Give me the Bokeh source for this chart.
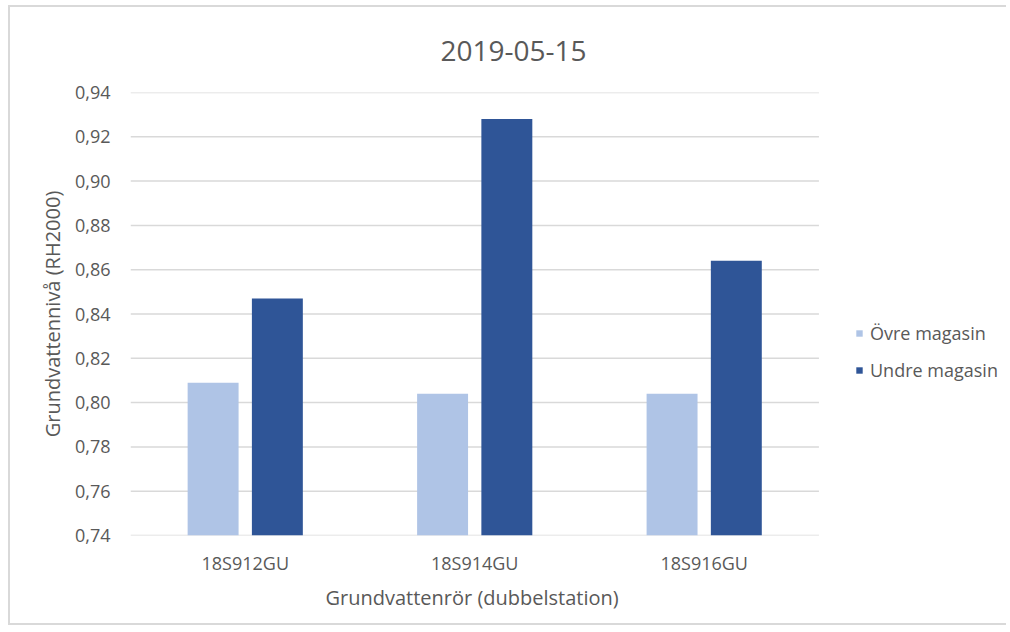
from bokeh.plotting import figure
from bokeh.models import FixedTicker, Legend, LegendItem, ColumnDataSource, Range1d, Title
from bokeh.embed import file_html
from bokeh.resources import INLINE

# Groundwater levels per double station, 2019-05-15
stations = ["18S912GU", "18S914GU", "18S916GU"]
ovre = [0.809, 0.804, 0.804]
undre = [0.847, 0.928, 0.864]

y_ticks = [0.74, 0.76, 0.78, 0.80, 0.82, 0.84, 0.86, 0.88, 0.90, 0.92, 0.94]
y_tick_labels = ["0,74", "0,76", "0,78", "0,80", "0,82", "0,84", "0,86", "0,88", "0,90", "0,92", "0,94"]

title_text = "2019-05-15"
x_title = "Grundvattenrör (dubbelstation)"
y_title = "Grundvattennivå (RH2000)"
series_names = ["Övre magasin", "Undre magasin"]

LIGHT = "#afc4e6"
DARK = "#2f5597"
GREY_TXT = "#595959"
GRID = "#d9d9d9"
FONT = "Open Sans"

# category slots sit at 0.5, 1.5, 2.5; the space right of the last slot holds the legend
n = len(stations)
centers = [i + 0.5 for i in range(n)]
source = ColumnDataSource(data=dict(
    x_ovre=[c - 0.14 for c in centers],
    x_undre=[c + 0.14 for c in centers],
    ovre=ovre, undre=undre,
))

p = figure(
    x_range=Range1d(0, n * 880 / 690),
    y_range=(y_ticks[0], y_ticks[-1]),
    width=998, height=620,
    output_backend="svg", toolbar_location=None,
    min_border_left=120, min_border_right=0,
    min_border_top=85, min_border_bottom=92,
)
p.margin = (5, 0, 0, 8)
p.styles = {"border-left": "2px solid #d9d9d9", "border-top": "2px solid #d9d9d9",
            "border-bottom": "2px solid #d9d9d9"}

base = y_ticks[0]

# horizontal gridlines over the category area only
p.segment(x0=0, x1=n, y0=y_ticks[1:], y1=y_ticks[1:], line_color=GRID, line_width=1.5)
p.segment(x0=0, x1=n, y0=base, y1=base, line_color=GRID, line_width=1.5)

r1 = p.vbar(x="x_ovre", top="ovre", bottom=base, width=0.222, source=source,
            fill_color=LIGHT, line_color=None)
r2 = p.vbar(x="x_undre", top="undre", bottom=base, width=0.222, source=source,
            fill_color=DARK, line_color=None)

p.title.text = title_text
p.title.text_font = FONT
p.title.text_font_size = "28px"
p.title.text_font_style = "normal"
p.title.text_color = GREY_TXT
p.title.align = "left"
p.title.offset = 310
p.title.standoff = 63

p.outline_line_color = None
p.background_fill_color = "white"
p.border_fill_color = "white"
p.xgrid.grid_line_color = None
p.ygrid.grid_line_color = None

# y axis
p.yaxis.ticker = FixedTicker(ticks=y_ticks)
p.yaxis.major_label_overrides = {t: s for t, s in zip(y_ticks, y_tick_labels)}
p.yaxis.axis_line_color = None
p.yaxis.major_tick_line_color = None
p.yaxis.minor_tick_line_color = None
p.yaxis.major_tick_out = 0
p.yaxis.major_label_standoff = 20
p.yaxis.axis_label = y_title
p.yaxis.axis_label_standoff = 6

# x axis: station names at the slot centres
p.xaxis.ticker = FixedTicker(ticks=centers)
p.xaxis.major_label_overrides = {c: s for c, s in zip(centers, stations)}
p.xaxis.axis_line_color = None
p.xaxis.major_tick_line_color = None
p.xaxis.minor_tick_line_color = None
p.xaxis.major_tick_out = 0
p.xaxis.major_label_standoff = 15

for ax in (p.xaxis, p.yaxis):
    ax.major_label_text_font = FONT
    ax.major_label_text_font_size = "18px"
    ax.major_label_text_color = GREY_TXT
    ax.axis_label_text_font = FONT
    ax.axis_label_text_font_size = "20px"
    ax.axis_label_text_font_style = "normal"
    ax.axis_label_text_color = GREY_TXT

# x axis title, centred under the category area
x_label = Title(text=x_title, align="left", offset=195, standoff=8,
                text_font=FONT, text_font_size="20px", text_font_style="normal",
                text_color=GREY_TXT)
p.add_layout(x_label, "below")

legend = Legend(
    items=[LegendItem(label=series_names[0], renderers=[r1]),
           LegendItem(label=series_names[1], renderers=[r2])],
    location=(725, 153),
    glyph_width=8, glyph_height=8,
    label_text_font=FONT, label_text_font_size="18px", label_text_color=GREY_TXT,
    label_standoff=7, label_height=20, spacing=13,
    border_line_color=None, background_fill_alpha=0,
    padding=0, margin=0,
)
p.add_layout(legend)

open("out.html", "w").write(file_html(p, INLINE))
